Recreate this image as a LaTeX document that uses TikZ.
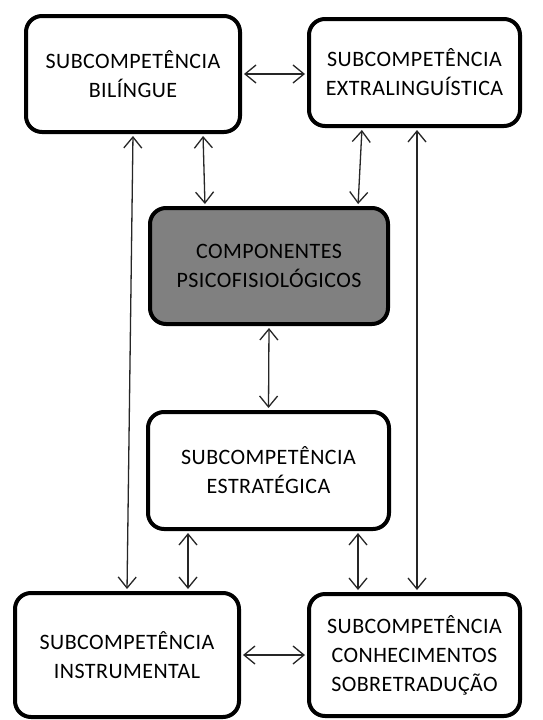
\documentclass[tikz,border=0pt]{standalone}
\usepackage{fontspec}
\setmainfont{Carlito}[LetterSpace=2]
\usetikzlibrary{arrows.meta,calc}
\begin{document}
\begin{tikzpicture}[x=1pt,y=-1pt,
  box/.style={draw=black,line width=4pt,rounded corners=16pt,fill=white,
    align=center,inner sep=0pt,font=\fontsize{22}{29}\selectfont,text=black},
  grey/.style={box,fill=black!50,text=black},
  link/.style={line width=1.3pt,draw=black!85,{Straight Barb[length=11pt,width=18pt]}-{Straight Barb[length=11pt,width=18pt]},shorten >=2pt,shorten <=2pt}]
\useasboundingbox (0,0) rectangle (542,720);
\fill[white] (0,0) rectangle (542,720);
\node[box,minimum width=214pt,minimum height=116pt] (bil) at (133,74) {SUBCOMPETÊNCIA\\BILÍNGUE};
\node[box,minimum width=211pt,minimum height=107pt] (ext) at (414.5,72.5) {SUBCOMPETÊNCIA\\EXTRALINGUÍSTICA};
\node[grey,minimum width=238pt,minimum height=116pt] (comp) at (269,266) {COMPONENTES\\PSICOFISIOLÓGICOS};
\node[box,minimum width=241pt,minimum height=117pt] (estr) at (268.5,470.5) {SUBCOMPETÊNCIA\\ESTRATÉGICA};
\node[box,minimum width=224pt,minimum height=124pt] (instr) at (127,655) {SUBCOMPETÊNCIA\\INSTRUMENTAL};
\node[box,minimum width=211pt,minimum height=122pt] (conh) at (414.5,655) {SUBCOMPETÊNCIA\\CONHECIMENTOS\\SOBRETRADUÇÃO};
\draw[link] (bil.east) -- (bil.east -| ext.west);
\draw[link] (bil.south) -- (instr.north);
\draw[link] ([xshift=2.5pt]ext.south) -- ([xshift=2.5pt]conh.north);
\draw[link] ([xshift=70pt]bil.south) -- ([xshift=-64pt]comp.north);
\draw[link] ([xshift=-52.5pt]ext.south) -- ([xshift=89pt]comp.north);
\draw[link] (comp.south) -- (estr.north);
\draw[link] ([xshift=-80.5pt]estr.south) -- ([xshift=61pt]instr.north);
\draw[link] ([xshift=89.5pt]estr.south) -- ([xshift=-56.5pt]conh.north);
\draw[link] (instr.east |- conh.west) -- (conh.west);
\end{tikzpicture}
\end{document}
